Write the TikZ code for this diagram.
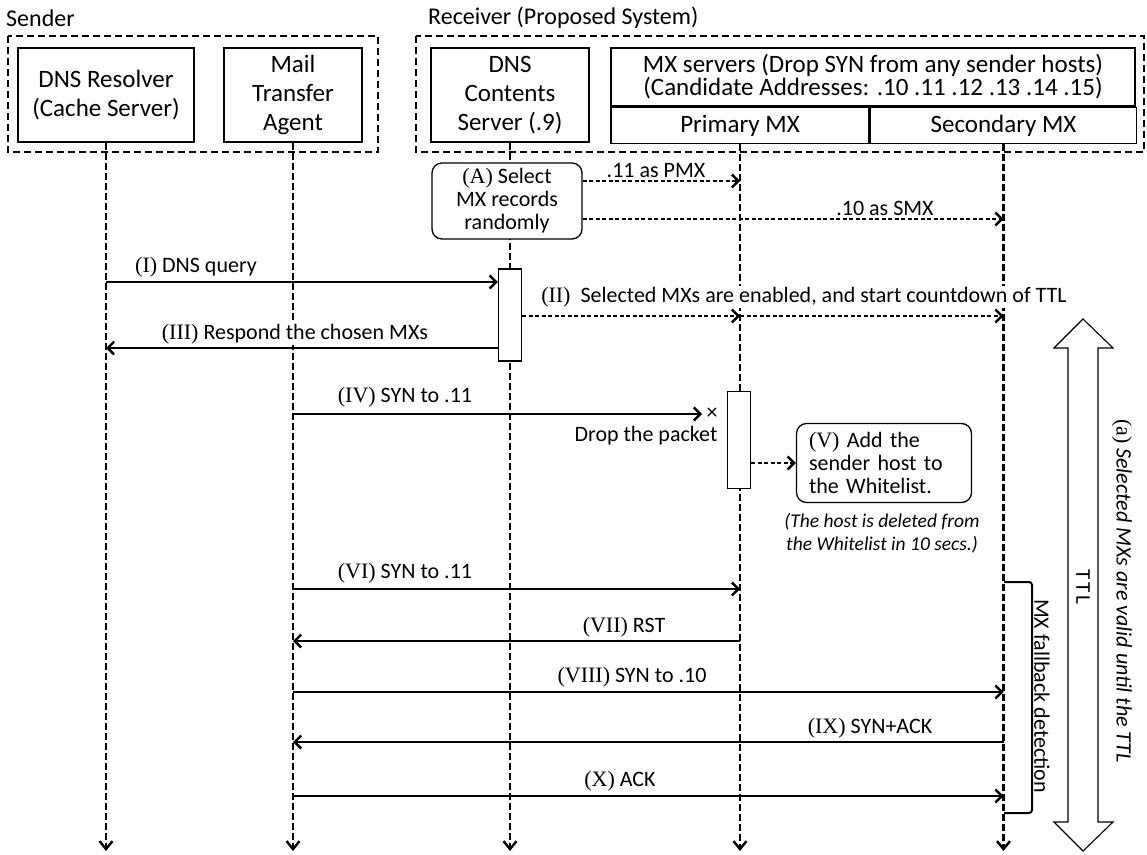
\documentclass[tikz,border=0pt]{standalone}
\usepackage{fontspec}
\setmainfont{Carlito}
\newfontfamily\tms{Liberation Serif}
\newcommand\rnum[1]{{\tms #1}}
\usetikzlibrary{arrows.meta}
\begin{document}
\begin{tikzpicture}[x=1pt,y=-1pt,
  box/.style={draw, line width=1.5pt, inner sep=0pt, align=center,
    font=\fontsize{25}{29}\selectfont},
  group/.style={draw, line width=1.5pt, dash pattern=on 7pt off 4pt},
  grouplbl/.style={anchor=west, inner sep=0pt, font=\fontsize{24}{28}\selectfont},
  life/.style={draw=black, line width=2.3pt, dash pattern=on 7pt off 3pt,
    -{Straight Barb[length=8pt,width=13pt,line width=2.4pt]}},
  msg/.style={line width=1.6pt,
    -{Straight Barb[length=6.5pt,width=13pt,line width=2.4pt]}},
  dmsg/.style={line width=1.5pt, dash pattern=on 4pt off 2.5pt,
    -{Straight Barb[length=6.5pt,width=13pt,line width=2.4pt]}},
  lbl/.style={fill=white, inner sep=1pt, font=\fontsize{22}{24}\selectfont},
  note/.style={draw, fill=white, rounded corners=10pt, line width=1.3pt,
    inner sep=0pt, font=\fontsize{22}{23}\selectfont},
  act/.style={draw, fill=white, line width=1.4pt, inner sep=0pt, minimum width=23pt},
  remark/.style={inner sep=0pt, align=center, font=\fontsize{19.5}{23}\selectfont\itshape},
  sidelbl/.style={rotate=-90, inner sep=0pt, font=\fontsize{22}{24}\selectfont}
]
\useasboundingbox (0,0) rectangle (1147,854);

% ---- participant groups ----
\node[grouplbl] (sendlbl) at (6,18) {Sender};
\node[grouplbl] (recvlbl) at (428,18) {Receiver (Proposed System)};
\draw[group] (8,36) rectangle (378,152);
\draw[group] (416,36) rectangle (1144,152);

% ---- participants ----
\node[box, minimum width=176pt, minimum height=94pt] (res) at (106,95)
  {DNS Resolver\\(Cache Server)};
\node[box, minimum width=138pt, minimum height=94pt] (mta) at (293,95)
  {Mail\\Transfer\\Agent};
\node[box, minimum width=158pt, minimum height=94pt] (dns) at (510,95)
  {DNS\\Contents\\Server (.9)};
\node[box, minimum width=524pt, minimum height=58pt, font=\fontsize{25}{23}\selectfont]
  (mx) at (873,77)
  {MX servers (Drop SYN from any sender hosts)\\(Candidate Addresses: .10 .11 .12 .13 .14 .15)};
\node[box, minimum width=258pt, minimum height=36pt, anchor=north west]
  (pmx) at (mx.south west) {Primary MX};
\node[box, minimum width=266pt, minimum height=36pt, anchor=north west]
  (smx) at (pmx.north east) {Secondary MX};

% ---- lifelines ----
\draw[life] (res.south) -- (res.south |- 0,851);
\draw[life] (mta.south) -- (mta.south |- 0,851);
\draw[life] (dns.south) -- (dns.south |- 0,851);
\draw[life] (pmx.south) -- (pmx.south |- 0,851);
\draw[life] (smx.south) -- (smx.south |- 0,851);

% ---- (A) record selection ----
\node[note, align=center, minimum width=150pt, minimum height=76pt] (sel) at (507,201)
  {\rnum{(A)} Select\\MX records\\randomly};
\draw[dmsg] (sel.east |- 0,181) -- (pmx.south |- 0,181);
\node[lbl, fill=none] (l11) at (656,171) {.11 as PMX};
\draw[dmsg] (sel.east |- 0,219) -- (smx.south |- 0,219);
\node[lbl, fill=none] (l10) at (885,208) {.10 as SMX};

% ---- DNS exchange ----
\node[act, minimum height=92pt] (act1) at (510,315) {};
\draw[msg] (res.south |- 0,282) -- (act1.west |- 0,282);
\node[lbl] (lI) at (196,267) {\rnum{(I)} DNS query};
\node[lbl] (lII) at (804,297) {\rnum{(II)}\ \ Selected MXs are enabled, and start countdown of TTL};
\draw[dmsg] (act1.east |- 0,316) -- (pmx.south |- 0,316);
\draw[dmsg] (pmx.south |- 0,316) -- (smx.south |- 0,316);
\draw[msg] (act1.west |- 0,348) -- (res.south |- 0,348);
\node[lbl] (lIII) at (295,334) {\rnum{(III)} Respond the chosen MXs};

% ---- first SYN, dropped ----
\node[act, minimum height=97pt] (act2) at (739,440) {};
\coordinate (lost) at (702,414);
\draw[msg] (mta.south |- 0,414) -- (lost);
\node[inner sep=0pt, font=\fontsize{22}{22}\selectfont] (cross) at (712,414) {×};
\node[lbl] (lIV) at (405,397) {\rnum{(IV)} SYN to .11};
\node[lbl] (drop) at (646,436) {Drop the packet};
\node[note, align=left, minimum width=175pt, minimum height=79pt, text width=150pt]
  (wl) at (884,463) {\rnum{(V)} Add the\\sender host to\\the Whitelist.};
\draw[dmsg] (act2.east |- 0,463) -- (wl.west |- 0,463);
\node[remark] (expire) at (882,533)
  {(The host is deleted from\\the Whitelist in 10 secs.)};

% ---- fallback to the secondary MX ----
\draw[msg] (mta.south |- 0,589) -- (pmx.south |- 0,589);
\node[lbl] (lVI) at (405,573) {\rnum{(VI)} SYN to .11};
\draw[msg] (pmx.south |- 0,641) -- (mta.south |- 0,641);
\node[lbl] (lVII) at (624,627) {\rnum{(VII)} RST};
\draw[msg] (mta.south |- 0,692) -- (smx.south |- 0,692);
\node[lbl] (lVIII) at (632,677) {\rnum{(VIII)} SYN to .10};
\draw[msg] (smx.south |- 0,742) -- (mta.south |- 0,742);
\node[lbl] (lIX) at (870,728) {\rnum{(IX)} SYN+ACK};
\draw[msg] (mta.south |- 0,796) -- (smx.south |- 0,796);
\node[lbl] (lX) at (620,781) {\rnum{(X)} ACK};

% ---- fallback bracket ----
\draw[line width=2pt, rounded corners=3pt]
  (1004,582) -- (1032,582) -- (1032,813) -- (1004,813);
\node[sidelbl] (fb) at (1042,696) {MX fallback detection};

% ---- TTL span ----
\draw[line width=1.1pt, fill=white]
  (1083,319) -- (1113,348) -- (1098,348) -- (1098,822) -- (1113,822)
  -- (1083,851) -- (1054,822) -- (1068,822) -- (1068,348) -- (1054,348) -- cycle;
\node[sidelbl, font=\fontsize{21}{24}\selectfont] (ttl) at (1083,587) {T\kern3pt T\kern3pt L};
\node[sidelbl, font=\fontsize{22}{24}\selectfont\itshape] (valid) at (1122,591)
  {\rnum{\upshape (a)} Selected MXs are valid until the TTL};
\end{tikzpicture}
\end{document}
